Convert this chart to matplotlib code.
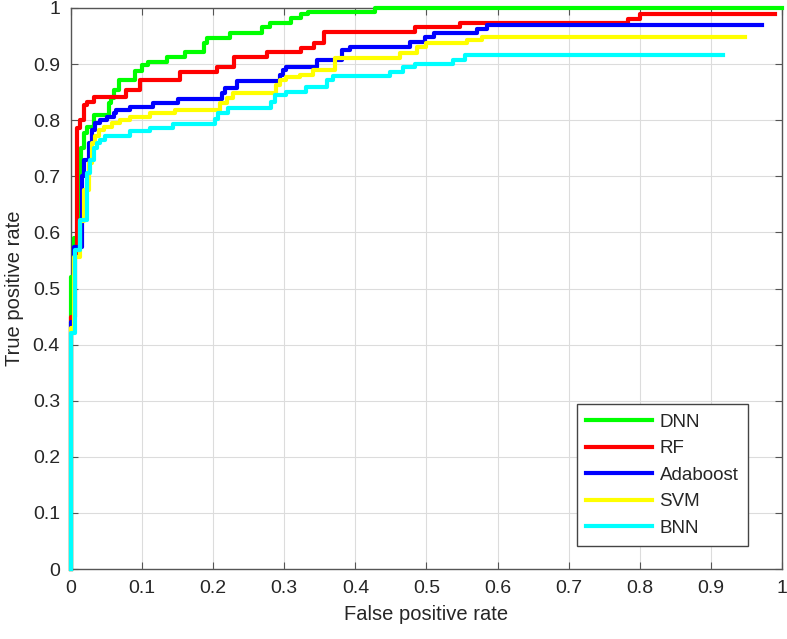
import matplotlib
matplotlib.use("Agg")
import matplotlib.pyplot as plt

# ROC step points: tpr jumps to the given value at each fpr
dnn_fpr = [0, 0, 0.004, 0.010, 0.014, 0.018, 0.022, 0.032, 0.053, 0.056, 0.060, 0.067, 0.090,
           0.100, 0.109, 0.135, 0.161, 0.187, 0.192, 0.224, 0.269, 0.280, 0.309, 0.323, 0.333,
           0.428, 1.0]
dnn_tpr = [0, 0.520, 0.590, 0.650, 0.750, 0.777, 0.788, 0.809, 0.830, 0.840, 0.854, 0.872, 0.887,
           0.898, 0.904, 0.913, 0.922, 0.937, 0.946, 0.955, 0.967, 0.973, 0.982, 0.990, 0.993,
           1.0, 1.0]

rf_fpr = [0, 0, 0.006, 0.009, 0.013, 0.018, 0.022, 0.032, 0.077, 0.097, 0.153, 0.205, 0.229,
          0.276, 0.323, 0.342, 0.356, 0.484, 0.547, 0.783, 0.800, 0.990]
rf_tpr = [0, 0.450, 0.560, 0.786, 0.800, 0.827, 0.833, 0.842, 0.854, 0.872, 0.886, 0.895, 0.913,
          0.922, 0.928, 0.937, 0.958, 0.967, 0.974, 0.981, 0.990, 0.990]

ada_fpr = [0, 0, 0.004, 0.015, 0.018, 0.025, 0.029, 0.034, 0.041, 0.051, 0.060, 0.064, 0.083,
           0.116, 0.151, 0.212, 0.216, 0.233, 0.294, 0.298, 0.303, 0.346, 0.381, 0.392, 0.477,
           0.498, 0.510, 0.571, 0.585, 0.972]
ada_tpr = [0, 0.440, 0.574, 0.700, 0.729, 0.759, 0.782, 0.795, 0.800, 0.806, 0.812, 0.818, 0.824,
           0.830, 0.837, 0.848, 0.857, 0.869, 0.881, 0.889, 0.895, 0.907, 0.925, 0.931, 0.940,
           0.949, 0.955, 0.962, 0.970, 0.970]

svm_fpr = [0, 0, 0.004, 0.012, 0.018, 0.025, 0.030, 0.034, 0.039, 0.046, 0.058, 0.069, 0.083,
           0.111, 0.146, 0.209, 0.219, 0.228, 0.289, 0.294, 0.303, 0.322, 0.341, 0.371, 0.463,
           0.486, 0.500, 0.557, 0.578, 0.948]
svm_tpr = [0, 0.430, 0.557, 0.620, 0.676, 0.723, 0.759, 0.771, 0.782, 0.788, 0.795, 0.800, 0.806,
           0.812, 0.818, 0.830, 0.839, 0.849, 0.863, 0.872, 0.877, 0.881, 0.889, 0.910, 0.919,
           0.931, 0.937, 0.943, 0.948, 0.948]

bnn_fpr = [0, 0, 0.006, 0.012, 0.022, 0.027, 0.032, 0.037, 0.041, 0.048, 0.083, 0.111, 0.144,
           0.203, 0.207, 0.221, 0.282, 0.287, 0.303, 0.330, 0.360, 0.369, 0.449, 0.467, 0.484,
           0.537, 0.554, 0.917]
bnn_tpr = [0, 0.420, 0.569, 0.622, 0.705, 0.729, 0.750, 0.759, 0.765, 0.772, 0.780, 0.786, 0.794,
           0.803, 0.812, 0.821, 0.833, 0.845, 0.851, 0.859, 0.872, 0.879, 0.886, 0.895, 0.901,
           0.908, 0.916, 0.916]

labels = ["DNN", "RF", "Adaboost", "SVM", "BNN"]
colors = ["#00ff00", "#ff0000", "#0000ff", "#ffff00", "#00ffff"]
curves = [(dnn_fpr, dnn_tpr), (rf_fpr, rf_tpr), (ada_fpr, ada_tpr),
          (svm_fpr, svm_tpr), (bnn_fpr, bnn_tpr)]

plt.rcParams['font.family'] = ['Liberation Sans', 'DejaVu Sans']
text_col = "#262626"

fig = plt.figure(figsize=(7.87, 6.39), dpi=100)
ax = fig.add_axes([0.0902, 0.1095, 0.9034, 0.878])

for (x, y), lab, c in zip(curves, labels, colors):
    ax.step(x, y, where='post', color=c, lw=3, label=lab, clip_on=False, zorder=3)

ax.set_xlim(0, 1)
ax.set_ylim(0, 1)
ax.set_xticks([i / 10 for i in range(11)])
ax.set_yticks([i / 10 for i in range(11)])
ax.set_xticklabels(["0", "0.1", "0.2", "0.3", "0.4", "0.5", "0.6", "0.7", "0.8", "0.9", "1"])
ax.set_yticklabels(["0", "0.1", "0.2", "0.3", "0.4", "0.5", "0.6", "0.7", "0.8", "0.9", "1"])
ax.grid(True, color="#dcdcdc", lw=0.8)
ax.set_axisbelow(True)
ax.tick_params(direction='in', top=True, right=True, length=5, width=0.8,
               labelsize=14, colors="#555555", labelcolor=text_col, pad=8)
for s in ax.spines.values():
    s.set_color("#555555")
    s.set_linewidth(1.0)

ax.set_xlabel("False positive rate", fontsize=14.5, color=text_col, labelpad=6)
ax.set_ylabel("True positive rate", fontsize=14.5, color=text_col, labelpad=6)

leg = ax.legend(loc='lower right', bbox_to_anchor=(0.952, 0.041), borderaxespad=0,
                fontsize=13.5, handlelength=3.5, labelspacing=0.5, fancybox=False,
                framealpha=1, edgecolor="#444444", borderpad=0.5, handletextpad=0.4)
leg.get_frame().set_linewidth(1.0)
leg.set_zorder(5)
for t in leg.get_texts():
    t.set_color(text_col)

fig.savefig("out.png", dpi=100)
